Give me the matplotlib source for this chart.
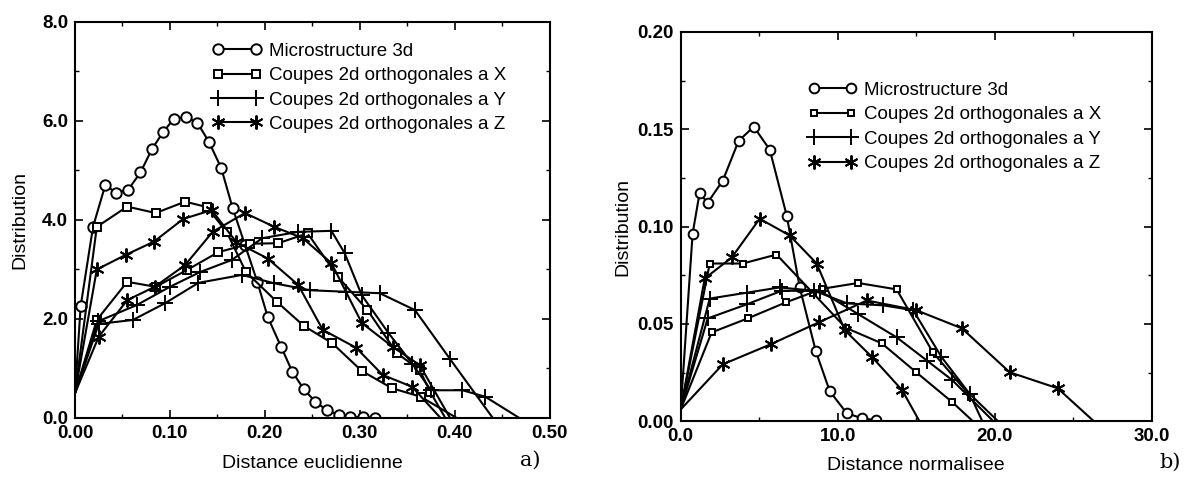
import matplotlib

matplotlib.use("Agg")
import matplotlib.pyplot as plt
from matplotlib.ticker import MultipleLocator, FormatStrFormatter

plt.rcParams["font.family"] = ["Liberation Sans", "DejaVu Sans"]

labels = [
    "Microstructure 3d",
    "Coupes 2d orthogonales a X",
    "Coupes 2d orthogonales a Y",
    "Coupes 2d orthogonales a Z",
]

# --- panel a) : distance euclidienne ---
a_circ_x = [0.0, 0.006, 0.019, 0.032, 0.043, 0.056, 0.069, 0.081, 0.093, 0.104, 0.117, 0.129, 0.141,
            0.154, 0.166, 0.179, 0.192, 0.203, 0.217, 0.229, 0.241, 0.253, 0.265, 0.278, 0.290, 0.303, 0.316]
a_circ_y = [0.5, 2.26, 3.86, 4.71, 4.55, 4.61, 4.96, 5.43, 5.78, 6.04, 6.08, 5.96, 5.58,
            5.05, 4.24, 3.50, 2.75, 2.04, 1.44, 0.93, 0.58, 0.33, 0.16, 0.06, 0.02, 0.02, 0.0]

a_sq1_x = [0.0, 0.023, 0.055, 0.085, 0.116, 0.139, 0.160, 0.180, 0.213, 0.241, 0.271, 0.302, 0.334, 0.364, 0.402]
a_sq1_y = [0.5, 3.86, 4.27, 4.14, 4.37, 4.26, 3.75, 2.95, 2.34, 1.86, 1.51, 0.95, 0.60, 0.43, 0.0]
a_sq2_x = [0.0, 0.023, 0.055, 0.085, 0.118, 0.151, 0.184, 0.214, 0.245, 0.277, 0.308, 0.339, 0.363, 0.374, 0.390]
a_sq2_y = [0.5, 1.98, 2.75, 2.65, 2.99, 3.35, 3.52, 3.53, 3.73, 2.85, 2.18, 1.31, 0.97, 0.53, 0.0]

a_plus1_x = [0.0, 0.025, 0.061, 0.095, 0.130, 0.176, 0.210, 0.248, 0.285, 0.321, 0.358, 0.395, 0.440]
a_plus1_y = [0.5, 1.90, 1.98, 2.32, 2.73, 2.89, 2.72, 2.58, 2.55, 2.52, 2.18, 1.19, 0.0]
a_plus2_x = [0.0, 0.024, 0.065, 0.100, 0.132, 0.165, 0.197, 0.235, 0.270, 0.284, 0.302, 0.330, 0.355,
             0.375, 0.408, 0.432, 0.468]
a_plus2_y = [0.5, 1.95, 2.28, 2.65, 2.95, 3.19, 3.63, 3.76, 3.78, 3.33, 2.48, 1.72, 1.10,
             0.56, 0.56, 0.43, 0.0]

a_star1_x = [0.0, 0.023, 0.054, 0.083, 0.114, 0.144, 0.170, 0.203, 0.235, 0.261, 0.296, 0.324, 0.355, 0.385]
a_star1_y = [0.5, 3.00, 3.30, 3.56, 4.02, 4.20, 3.55, 3.22, 2.69, 1.78, 1.42, 0.87, 0.63, 0.0]
a_star2_x = [0.0, 0.025, 0.055, 0.084, 0.116, 0.145, 0.179, 0.210, 0.240, 0.270, 0.302, 0.335, 0.363, 0.395]
a_star2_y = [0.5, 1.64, 2.38, 2.65, 3.09, 3.76, 4.14, 3.86, 3.63, 3.13, 1.92, 1.43, 1.07, 0.0]

# --- panel b) : distance normalisee ---
b_circ_x = [0.0, 0.76, 1.2, 1.72, 2.68, 3.69, 4.65, 5.67, 6.75, 7.58, 8.6, 9.49, 10.57, 11.53, 12.42]
b_circ_y = [0.006, 0.0964, 0.117, 0.1123, 0.1236, 0.144, 0.1513, 0.1395, 0.1056, 0.0687, 0.036,
            0.0154, 0.0041, 0.0015, 0.0005]

b_sq1_x = [0.0, 1.85, 3.95, 6.1, 8.4, 10.5, 12.8, 15.0, 17.3, 18.6]
b_sq1_y = [0.006, 0.081, 0.081, 0.0856, 0.066, 0.048, 0.040, 0.0251, 0.0097, 0.0]
b_sq2_x = [0.0, 1.97, 4.27, 6.69, 9.0, 11.3, 13.75, 16.05, 18.5, 19.2]
b_sq2_y = [0.006, 0.0456, 0.0528, 0.061, 0.068, 0.071, 0.0677, 0.0354, 0.0123, 0.0]

b_plus1_x = [0.0, 1.85, 4.2, 6.3, 8.5, 10.6, 12.9, 14.8, 16.6, 18.4, 20.2]
b_plus1_y = [0.006, 0.063, 0.066, 0.0687, 0.067, 0.0605, 0.0595, 0.057, 0.033, 0.014, 0.0]
b_plus2_x = [0.0, 1.72, 4.2, 6.43, 8.85, 11.3, 13.76, 15.7, 17.3, 19.9]
b_plus2_y = [0.006, 0.0528, 0.060, 0.067, 0.067, 0.055, 0.043, 0.031, 0.021, 0.0]

b_star1_x = [0.0, 1.53, 3.25, 5.03, 6.94, 8.66, 10.45, 12.2, 14.1, 15.2]
b_star1_y = [0.006, 0.0733, 0.0841, 0.104, 0.0954, 0.081, 0.0467, 0.0328, 0.0159, 0.0]
b_star2_x = [0.0, 2.68, 5.73, 8.8, 11.85, 15.0, 17.9, 20.95, 24.0, 26.3]
b_star2_y = [0.006, 0.0292, 0.0395, 0.0508, 0.062, 0.057, 0.0477, 0.0251, 0.0169, 0.0]

ASTERISK = (6, 2, 0)


def draw_panel(ax, series, sizes):
    markers = ["o", "s", "+", ASTERISK]
    for i, curves in enumerate(series):
        for j, (x, y) in enumerate(curves):
            last = len(x) if i == 0 else len(x) - 1
            ax.plot(x, y, color="black", lw=1.5, marker=markers[i], ms=sizes[i],
                    mfc="white", mec="black", mew=1.4, markevery=slice(1, last),
                    label=labels[i] if j == 0 else None)


fig = plt.figure(figsize=(11.9, 4.83), dpi=100)
ax_a = fig.add_axes([0.063, 0.1346, 0.399, 0.82])
ax_b = fig.add_axes([0.572, 0.128, 0.396, 0.806])

draw_panel(ax_a, [
    [(a_circ_x, a_circ_y)],
    [(a_sq1_x, a_sq1_y), (a_sq2_x, a_sq2_y)],
    [(a_plus1_x, a_plus1_y), (a_plus2_x, a_plus2_y)],
    [(a_star1_x, a_star1_y), (a_star2_x, a_star2_y)],
], [7.5, 5.5, 11, 10])

draw_panel(ax_b, [
    [(b_circ_x, b_circ_y)],
    [(b_sq1_x, b_sq1_y), (b_sq2_x, b_sq2_y)],
    [(b_plus1_x, b_plus1_y), (b_plus2_x, b_plus2_y)],
    [(b_star1_x, b_star1_y), (b_star2_x, b_star2_y)],
], [7, 5, 11, 10])

ax_a.set_xlim(0, 0.5)
ax_a.set_ylim(0, 8)
ax_a.xaxis.set_major_locator(MultipleLocator(0.1))
ax_a.xaxis.set_minor_locator(MultipleLocator(0.05))
ax_a.yaxis.set_major_locator(MultipleLocator(2))
ax_a.yaxis.set_minor_locator(MultipleLocator(1))
ax_a.xaxis.set_major_formatter(FormatStrFormatter("%.2f"))
ax_a.yaxis.set_major_formatter(FormatStrFormatter("%.1f"))
ax_a.set_xlabel("Distance euclidienne", fontsize=14)
ax_a.set_ylabel("Distribution", fontsize=14)
ax_a.yaxis.set_label_coords(-0.098, 0.5)
ax_a.xaxis.set_label_coords(0.5, -0.093)

ax_b.set_xlim(0, 30)
ax_b.set_ylim(0, 0.2)
ax_b.xaxis.set_major_locator(MultipleLocator(10))
ax_b.xaxis.set_minor_locator(MultipleLocator(5))
ax_b.yaxis.set_major_locator(MultipleLocator(0.05))
ax_b.yaxis.set_minor_locator(MultipleLocator(0.025))
ax_b.xaxis.set_major_formatter(FormatStrFormatter("%.1f"))
ax_b.yaxis.set_major_formatter(FormatStrFormatter("%.2f"))
ax_b.set_xlabel("Distance normalisee", fontsize=14)
ax_b.set_ylabel("Distribution", fontsize=14)
ax_b.yaxis.set_label_coords(-0.105, 0.5)
ax_b.xaxis.set_label_coords(0.5, -0.093)

for ax in (ax_a, ax_b):
    ax.tick_params(which="both", direction="in", top=True, right=True, labelsize=13.5, pad=5)
    ax.tick_params(which="major", length=6, width=1.2)
    ax.tick_params(which="minor", length=3, width=1.0)
    for sp in ax.spines.values():
        sp.set_linewidth(1.5)
    for lab in ax.get_xticklabels() + ax.get_yticklabels():
        lab.set_fontweight("bold")

ax_a.legend(loc="upper left", bbox_to_anchor=(0.29, 0.948), frameon=False, numpoints=2,
            handlelength=2.6, fontsize=13.5, labelspacing=0.39, handletextpad=0.4,
            borderpad=0, borderaxespad=0)
ax_b.legend(loc="upper left", bbox_to_anchor=(0.27, 0.872), frameon=False, numpoints=2,
            handlelength=2.6, fontsize=13.5, labelspacing=0.39, handletextpad=0.4,
            borderpad=0, borderaxespad=0)

fig.text(530 / 1190, 1 - 460 / 483, "a)", family="DejaVu Serif", fontsize=15, ha="center", va="center")
fig.text(1170 / 1190, 1 - 462 / 483, "b)", family="DejaVu Serif", fontsize=15, ha="center", va="center")

fig.savefig("out.png", dpi=100)
